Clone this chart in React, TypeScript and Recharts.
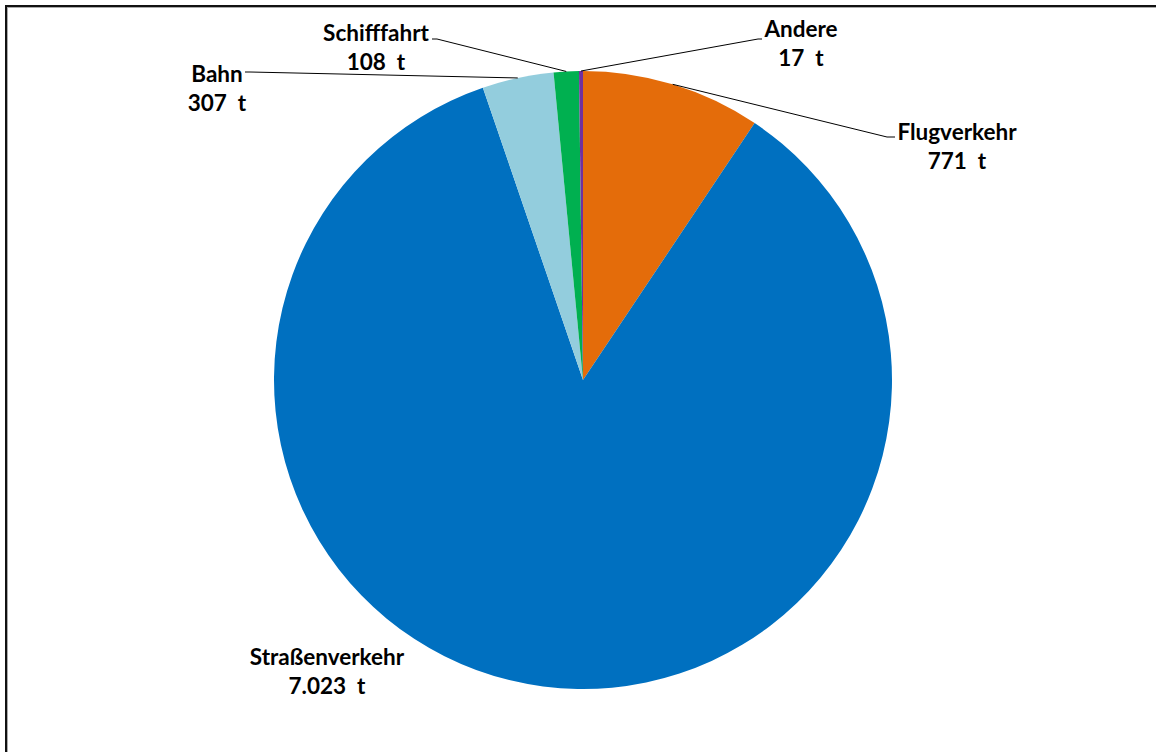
import React from "react";
import { Cell, Pie, PieChart } from "recharts";

const CATEGORIES = ["Flugverkehr", "Straßenverkehr", "Bahn", "Schifffahrt", "Andere"];
const EMISSIONS_T = [771, 7023, 307, 108, 17];
const COLORS = ["#E46C0A", "#0070C0", "#93CDDD", "#00B050", "#7030A0"];

const data = CATEGORIES.map((name, i) => ({ name, value: EMISSIONS_T[i] }));

// label placement (text centres and leader-line bends)
const LABEL_LAYOUT: Record<string, { x: number; y: number; line?: [number, number][] }> = {
  Flugverkehr: { x: 957, y: 131, line: [[887, 137], [895, 137]] },
  "Straßenverkehr": { x: 327, y: 656 },
  Bahn: { x: 217, y: 73, line: [[250, 72], [245, 72]] },
  Schifffahrt: { x: 376, y: 32, line: [[437, 39], [432, 39]] },
  Andere: { x: 801, y: 28, line: [[758, 39], [762, 39]] },
};

const RAD = Math.PI / 180;
const FONT = "Lato, 'Open Sans', sans-serif";
const FONT_SIZE = 22.5;

function formatDe(v: number) {
  return String(v).replace(/\B(?=(\d{3})+(?!\d))/g, ".");
}

function renderLabel(props: any) {
  const { cx, cy, midAngle, outerRadius, index } = props;
  const name = CATEGORIES[index];
  const value = EMISSIONS_T[index];
  const pos = LABEL_LAYOUT[name];
  const sx = cx + outerRadius * Math.cos(-midAngle * RAD);
  const sy = cy + outerRadius * Math.sin(-midAngle * RAD);
  return (
    <g key={`lbl-${index}`}>
      {pos.line && (
        <polyline
          points={[[sx, sy], ...pos.line].map((p) => p.join(",")).join(" ")}
          fill="none"
          stroke="#000"
          strokeWidth={1}
        />
      )}
      <text
        x={pos.x}
        y={pos.y}
        textAnchor="middle"
        dominantBaseline="central"
        fontFamily={FONT}
        fontWeight={700}
        fontSize={FONT_SIZE}
        fill="#000"
      >
        {name}
      </text>
      <text
        x={pos.x}
        y={pos.y + 29}
        textAnchor="middle"
        dominantBaseline="central"
        fontFamily={FONT}
        fontWeight={700}
        fontSize={FONT_SIZE}
        fill="#000"
        style={{ whiteSpace: "pre" }}
      >
        {`${formatDe(value)}  t`}
      </text>
    </g>
  );
}

export default function App() {
  return (
    <div
      style={{
        position: "fixed",
        left: 0,
        top: 0,
        width: 1156,
        height: 752,
        overflow: "hidden",
        background: "#fff",
      }}
    >
      <div
        style={{
          position: "absolute",
          left: 5,
          top: 5,
          width: 1300,
          height: 900,
          borderLeft: "2px solid #111",
          borderTop: "2px solid #111",
          boxShadow: "inset 1px 1px 0 #aaa",
        }}
      />
      <div style={{ position: "absolute", left: 0, top: 0 }}>
        <PieChart width={1156} height={752} margin={{ top: 0, right: 0, bottom: 0, left: 0 }}>
          <Pie
            data={data}
            dataKey="value"
            nameKey="name"
            cx={583}
            cy={380}
            innerRadius={0}
            outerRadius={309}
            startAngle={90}
            endAngle={-270}
            stroke="none"
            label={renderLabel}
            labelLine={false}
            isAnimationActive={false}
          >
            {data.map((entry, index) => (
              <Cell key={`cell-${index}`} fill={COLORS[index % COLORS.length]} />
            ))}
          </Pie>
        </PieChart>
      </div>
    </div>
  );
}
